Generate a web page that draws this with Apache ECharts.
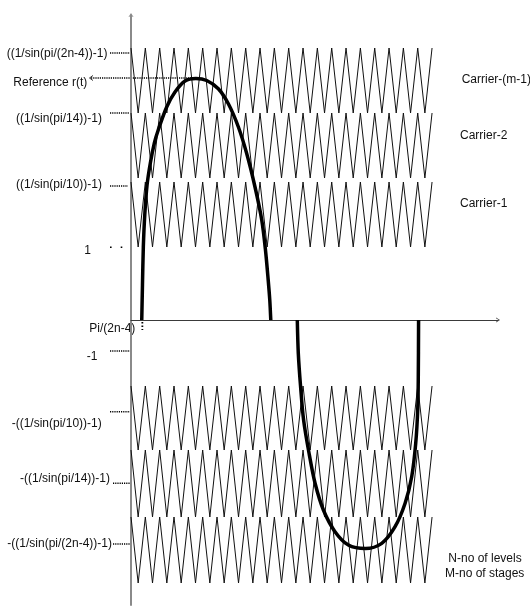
<!DOCTYPE html>
<html><head><meta charset="utf-8">
<script src="https://cdn.jsdelivr.net/npm/echarts@6/dist/echarts.min.js"></script>
<style>html,body{margin:0;padding:0;background:#fff}#c{width:530px;height:606px}</style>
</head><body><div id="c"></div>
<script>
// ---- data (x in carrier periods, y in arbitrary level units; x axis at y = 0) ----
const carrierX = [0,0.5,1,1.5,2,2.5,3,3.5,4,4.5,5,5.5,6,6.5,7,7.5,8,8.5,9,9.5,10,10.5,11,11.5,12,12.5,13,13.5,14,14.5,15,15.5,16,16.5,17,17.5,18,18.5,19,19.5,20,20.5,21];
const carrierNames = ['Carrier-(m-1)','Carrier-2','Carrier-1','Carrier-(-1)','Carrier-(-2)','Carrier-(-(m-1))'];
const carrierHigh = [27.2, 20.7, 13.8, -6.6, -13.0, -19.7];
const carrierLow  = [20.7, 14.2, 7.3, -13.0, -19.7, -26.3];

const refPosX = [0.75,0.80,0.86,0.96,1.12,1.35,1.63,1.90,2.49,3.07,3.77,4.53,5.28,6.09,6.79,7.49,8.07,8.65,9.12,9.38,9.57,9.68,9.75];
const refPosY = [0,3.5,7.3,10.5,13.5,15.7,17.7,19.0,21.3,22.8,23.9,24.15,23.95,23.12,21.62,19.3,16.65,13.3,10.0,7.0,4.0,2.0,0];
const refNegX = [11.60,11.67,11.83,12.04,12.42,12.84,13.42,14.23,15.16,16.36,17.49,18.42,19.12,19.58,19.86,20.00,20.04,20.06];
const refNegY = [0,-3.33,-6.67,-10.0,-13.33,-16.33,-19.0,-21.17,-22.5,-22.85,-22.33,-20.67,-18.33,-15.67,-12.33,-9.0,-5.67,0];

const leftLabels = ['((1/sin(pi/(2n-4))-1)','((1/sin(pi/14))-1)','((1/sin(pi/10))-1)','1','-1','-((1/sin(pi/10))-1)','-((1/sin(pi/14))-1)','-((1/sin(pi/(2n-4))-1)'];
const leftLevels = [26.7, 20.7, 13.4, 7.27, -3.1, -9.17, -16.33, -22.4];
const originLabel = 'Pi/(2n-4)';
const refLabel = 'Reference r(t)';
const rightLabels = ['Carrier-(m-1)','Carrier-2','Carrier-1'];
const rightLevels = [24.0, 18.4, 11.6];
const noteLabels = ['N-no of levels','M-no of stages'];
const noteLevels = [-23.83, -25.4];

// ---- build ----
const chevron = 'path://M0,8 L5,0 L10,8 L8.4,8 L5,2.6 L1.6,8 Z';
const series = carrierNames.map((n, k) => ({
  name: n, type: 'line', silent: true, symbol: 'none', z: 2,
  lineStyle: { color: '#111', width: 1 },
  data: carrierX.map((x, i) => [x, i % 2 === 0 ? carrierHigh[k] : carrierLow[k]])
}));
const refData = refPosX.map((x, i) => [x, refPosY[i]]).concat([[null, null]], refNegX.map((x, i) => [x, refNegY[i]]));
series.push({
  name: 'Reference r(t)', type: 'line', silent: true, symbol: 'none', z: 5,
  smooth: 0.3, connectNulls: false,
  lineStyle: { color: '#000', width: 3.5 },
  data: refData
});

const option = {
  animation: false,
  backgroundColor: '#fff',
  grid: { left: 131, right: 32, top: 15, bottom: 1, containLabel: false },
  xAxis: {
    type: 'value', min: 0, max: 25.6,
    axisLine: { show: true, onZero: true, symbol: ['none', chevron], symbolSize: [7, 4], lineStyle: { color: '#3a3a3a', width: 1.2 } },
    axisTick: { show: false }, axisLabel: { show: false }, splitLine: { show: false }
  },
  yAxis: {
    type: 'value', min: -28.5, max: 30.5,
    axisLine: { show: true, onZero: true, symbol: ['none', chevron], symbolSize: [6, 4], lineStyle: { color: '#8a8a8a', width: 2 } },
    axisTick: { show: false }, axisLabel: { show: false }, splitLine: { show: false }
  },
  series: series
};

const chart = echarts.init(document.getElementById('c'), null, { renderer: 'canvas' });
chart.setOption(option);

const P = (x, y) => chart.convertToPixel({ gridIndex: 0 }, [x, y]);
const FONT = '12px "Liberation Sans", Arial, sans-serif';
const g = [];
function txt(t, x, y) {
  g.push({ type: 'text', x: x, y: y, silent: true, style: { text: t, font: FONT, fill: '#111', verticalAlign: 'middle', align: 'left' } });
}
function dots(x1, y1, x2, y2, dash, w) {
  g.push({ type: 'line', silent: true, shape: { x1: x1, y1: y1, x2: x2, y2: y2 }, style: { stroke: '#000', lineWidth: w || 1.6, lineDash: dash || [1.2, 1] } });
}
// left labels layout: [textX, text dy, dotStart, dotEnd]
const leftLayout = [[6.7,0.3,110,131],[16,5.3,110,129],[16,-1,110,128],[84.3,3.4,110,131.5],[86.7,5.7,110,131],[11.7,11.6,110,131],[20,-4.3,113,131],[7.3,0,113,131]];
leftLabels.forEach((t, i) => {
  const y = P(0, leftLevels[i])[1];
  const L = leftLayout[i];
  txt(t, L[0], y + L[1]);
  if (t === '1') dots(L[2], y, L[3], y, [1.6, 9.1], 1.6);
  else dots(L[2], y, L[3], y);
});
// origin label and tick mark at start of reference
const start = P(refPosX[0], 0);
txt(originLabel, 89.3, start[1] + 8.3);
dots(start[0] + 0.6, start[1] + 2, start[0] + 0.6, start[1] + 10, [1.5, 2], 1.8);
// reference arrow from the peak
let pk = 0; refPosY.forEach((v, i) => { if (v > refPosY[pk]) pk = i; });
const peak = P(refPosX[pk], refPosY[pk]);
dots(91, peak[1] - 0.5, peak[0], peak[1] - 0.5, [1.2, 1], 1.6);
g.push({ type: 'polyline', silent: true, shape: { points: [[93, peak[1] - 3], [89.5, peak[1] - 0.5], [93, peak[1] + 2]] }, style: { stroke: '#000', lineWidth: 0.8, fill: null } });
txt(refLabel, 13.3, peak[1] + 4.3);
// right labels
const rx = [461.7, 460, 460];
rightLabels.forEach((t, i) => txt(t, rx[i], P(0, rightLevels[i])[1]));
const nx = [448.3, 445];
noteLabels.forEach((t, i) => txt(t, nx[i], P(0, noteLevels[i])[1]));

chart.setOption({ graphic: { elements: g } });
</script>
</body></html>
